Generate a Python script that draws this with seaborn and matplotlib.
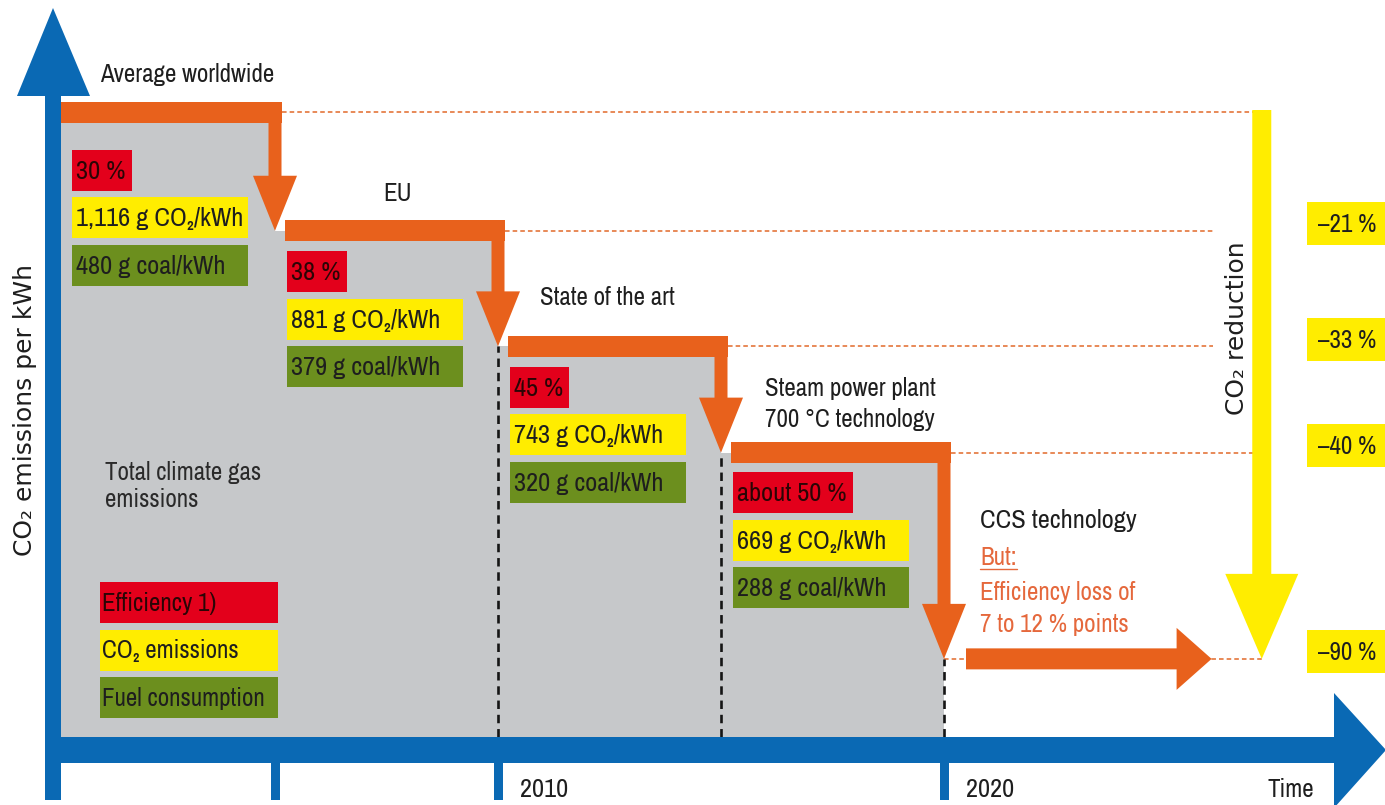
import matplotlib
matplotlib.use("Agg")
import matplotlib.pyplot as plt
from matplotlib import font_manager
from matplotlib.patches import Rectangle, FancyArrow, Polygon
import seaborn as sns

# ---------------- data ----------------
stages = ["Average worldwide", "EU", "State of the art",
          "Steam power plant\n700 °C technology"]
efficiency = ["30 %", "38 %", "45 %", "about 50 %"]
co2_g_per_kwh = [1116, 881, 743, 669]
coal_g_per_kwh = [480, 379, 320, 288]
co2_reduction = ["–21 %", "–33 %", "–40 %", "–90 %"]
# schematic height of each emission step as drawn (worldwide average = 100); last = CCS
step_level = [100, 81, 62.5, 45.5, 12.5]
stage_start = [0, 1, 2, 3]
time_ticks = [1, 2, 4]
time_tick_labels = ["", "2010", "2020"]
legend_labels = ["Efficiency 1)", "CO₂ emissions", "Fuel consumption"]
ccs_title = "CCS technology"
ccs_note = ["Efficiency loss of", "7 to 12 % points"]

# ---------------- style ----------------
sns.set_theme(style="white")

fl = font_manager.fontManager.ttflist
def has(name, stretch=None):
    return any(f.name == name and (stretch is None or f.stretch == stretch) for f in fl)

if has("Archivo Narrow"):
    NFAM, NSTR, SC = "Archivo Narrow", "normal", 1.0
elif has("Liberation Sans Narrow"):
    NFAM, NSTR, SC = "Liberation Sans Narrow", "normal", 1.0
elif has("DejaVu Sans", "condensed"):
    NFAM, NSTR, SC = "DejaVu Sans", "condensed", 0.86
else:
    NFAM, NSTR, SC = "Liberation Sans", "normal", 0.84

plt.rcParams["font.family"] = [NFAM, "DejaVu Sans"]
plt.rcParams["font.stretch"] = NSTR
WIDE = ["DejaVu Sans"]

BLUE = "#0a69b4"
ORANGE = "#e8611c"
GREY = "#c6c8ca"
RED = "#e3001b"
YELLOW = "#ffed00"
GREEN = "#6c8f1e"
DASH_OR = "#e2692a"
TXT = "#1e1e1e"
RED_TXT = "#2a0505"
ORANGE_TXT = "#e5683c"

fig = plt.figure(figsize=(13.85, 8.05), dpi=100)
ax = fig.add_axes([0, 0, 1, 1])

# scale: 1 time unit = 223 px, 1 level unit = 6.25 px
XS, YS = 223.0, 6.25
X0, Y0 = 52.0, 737.0
def dx(p): return p / XS
def dy(p): return p / YS
def ux(p): return (p - X0) / XS
def uy(p): return (Y0 - p) / YS

# grey emission steps
mid = [s + 0.5 for s in stage_start]
sns.barplot(x=mid, y=step_level[:4], native_scale=True, width=1.0, color=GREY,
            saturation=1, linewidth=0, errorbar=None, ax=ax, zorder=1)

ax.set_xlim(ux(0), ux(1385))
ax.set_ylim(uy(805), uy(0))
ax.axis("off")

RED_X = 5.425  # position of the reduction arrow (time units)
half = dy(10.5)

# dashed orange level guides
guide_ends = [RED_X, ux(1213), ux(1213), RED_X, RED_X]
guide_starts = [1 + dx(7), 2 + dx(7), 3 + dx(7), 4 + dx(7), 4]
for lev, x0, x1 in zip(step_level, guide_starts, guide_ends):
    ax.plot([x0, x1], [lev, lev], color=DASH_OR, lw=1.1, ls=(0, (3, 2)), zorder=2)

# black dashed verticals at stage boundaries
for b in [2, 3, 4]:
    ax.plot([b, b], [0, step_level[b]], color="#151515", lw=1.9, ls=(0, (3.2, 2.2)), zorder=3)

# orange steps with arrows
for i in range(4):
    b0 = stage_start[i]
    b1 = b0 + 1
    left = ux(61) if i == 0 else b0 + dx(10)
    right = b1 + dx(7)
    ax.add_patch(Rectangle((left, step_level[i] - half), right - left, 2 * half,
                           color=ORANGE, lw=0, zorder=4))
    ax.add_patch(FancyArrow(b1, step_level[i], 0, step_level[i + 1] - step_level[i],
                            width=dx(13), head_width=dx(44), head_length=dy(55),
                            length_includes_head=True, color=ORANGE, lw=0, zorder=4))

# CCS arrow
ccs_x0 = 4 + dx(22)
ax.add_patch(FancyArrow(ccs_x0, step_level[4], 5.2 - ccs_x0, 0,
                        width=dy(21), head_width=dy(62), head_length=dx(35),
                        length_includes_head=True, color=ORANGE, lw=0, zorder=4))

# yellow reduction arrow
ax.add_patch(FancyArrow(RED_X, step_level[0] + dy(2), 0, step_level[4] - step_level[0] - dy(2),
                        width=dx(19), head_width=dx(73), head_length=dy(85),
                        length_includes_head=True, color=YELLOW, lw=0, zorder=3))
ax.text(ux(1237), uy(328), "CO₂ reduction", rotation=90, ha="center", va="center",
        fontsize=18, color=TXT, family=WIDE, stretch="normal")

# reduction labels
for j, lab in enumerate(co2_reduction):
    yc = step_level[j + 1] + dy(7)
    ax.add_patch(Rectangle((ux(1307), yc - dy(21.5)), dx(90), dy(43), color=YELLOW, lw=0, zorder=5))
    ax.text(ux(1318), yc - dy(8.5), lab, ha="left", va="baseline", fontsize=18 * SC,
            color=TXT, zorder=6)

# stage boxes and titles
renderer = fig.canvas.get_renderer()
box_off = [27, 10, 10, 9]
title_dx = [48, 108, 42, 44]
title_up = [20, 19, 31, 15]
for i in range(4):
    b0 = stage_start[i]
    left = b0 + dx(20 if i == 0 else 12)
    top = step_level[i] - half - dy(box_off[i])
    items = [(efficiency[i], RED, RED_TXT),
             (f"{co2_g_per_kwh[i]:,} g CO₂/kWh", YELLOW, TXT),
             (f"{coal_g_per_kwh[i]} g coal/kWh", GREEN, TXT)]
    for k, (txt, col, tcol) in enumerate(items):
        btop = top - dy(47.5 * k)
        yc = btop - dy(20.5)
        t = ax.text(left + dx(4), yc - dy(8.5), txt, ha="left", va="baseline",
                    fontsize=19 * SC, color=tcol, zorder=6)
        if k == 0:
            w = dx(t.get_window_extent(renderer).width + 10)
        else:
            w = dx(176)
        ax.add_patch(Rectangle((left, btop - dy(41)), w, dy(41), color=col, lw=0, zorder=5))
    lines = stages[i].split("\n")
    tx = b0 + dx(title_dx[i]) if i else ux(100)
    for n, line in enumerate(reversed(lines)):
        ax.text(tx, step_level[i] + half + dy(title_up[i] + 31 * n), line,
                ha="left", va="baseline", fontsize=18 * SC, color=TXT, zorder=6)

# legend
leg_colors = [RED, YELLOW, GREEN]
leg_tcolors = [RED_TXT, TXT, TXT]
for k, (lab, c, tc) in enumerate(zip(legend_labels, leg_colors, leg_tcolors)):
    top = 582 + 47.5 * k
    ax.add_patch(Rectangle((ux(100), uy(top + 41)), dx(178), dy(41), color=c, lw=0, zorder=5))
    ax.text(ux(102), uy(top + 20.5 + 8), lab, ha="left", va="baseline", fontsize=18 * SC,
            color=tc, zorder=6)
for n, line in enumerate(["Total climate gas", "emissions"]):
    ax.text(ux(105), uy(480 + 27 * n), line, ha="left", va="baseline",
            fontsize=18 * SC, color="#2a2a2a", zorder=6)

# CCS annotation
cx = 4 + dx(36)
ax.text(cx, uy(528), ccs_title, ha="left", va="baseline", fontsize=19 * SC, color=TXT, zorder=6)
tb = ax.text(cx, uy(565), "But:", ha="left", va="baseline", fontsize=18 * SC,
             color=ORANGE_TXT, zorder=6)
wb = dx(tb.get_window_extent(renderer).width)
ax.plot([cx, cx + wb], [uy(569), uy(569)], color=ORANGE_TXT, lw=1.0, zorder=6)
for n, line in enumerate(ccs_note):
    ax.text(cx, uy(600 + 32 * n), line, ha="left", va="baseline",
            fontsize=18 * SC, color=ORANGE_TXT, zorder=6)

# blue axes
ax.add_patch(Rectangle((ux(45), uy(800)), dx(16), dy(800 - 95), color=BLUE, lw=0, zorder=7))
ax.add_patch(Polygon([(ux(17), uy(96)), (ux(90), uy(96)), (ux(53), uy(8))], closed=True,
                     color=BLUE, lw=0, zorder=7))
ax.add_patch(Rectangle((ux(45), uy(763)), dx(1336 - 45), dy(26), color=BLUE, lw=0, zorder=7))
ax.add_patch(Polygon([(ux(1334), uy(693)), (ux(1334), uy(808)), (ux(1386), uy(750))],
                     closed=True, color=BLUE, lw=0, zorder=7))
for tpos, lab in zip(time_ticks, time_tick_labels):
    ax.add_patch(Rectangle((tpos - dx(4.5), uy(800)), dx(9), dy(800 - 762), color=BLUE,
                           lw=0, zorder=7))
    if lab:
        ax.text(tpos + dx(22), uy(797), lab, ha="left", va="baseline", fontsize=19 * SC,
                color=TXT)
ax.text(ux(1268), uy(797), "Time", ha="left", va="baseline", fontsize=18 * SC, color=TXT)
ax.text(ux(25), uy(410), "CO₂ emissions per kWh", rotation=90, ha="center", va="center",
        fontsize=18, color=TXT, family=WIDE, stretch="normal")

fig.savefig("out.png", dpi=100)
